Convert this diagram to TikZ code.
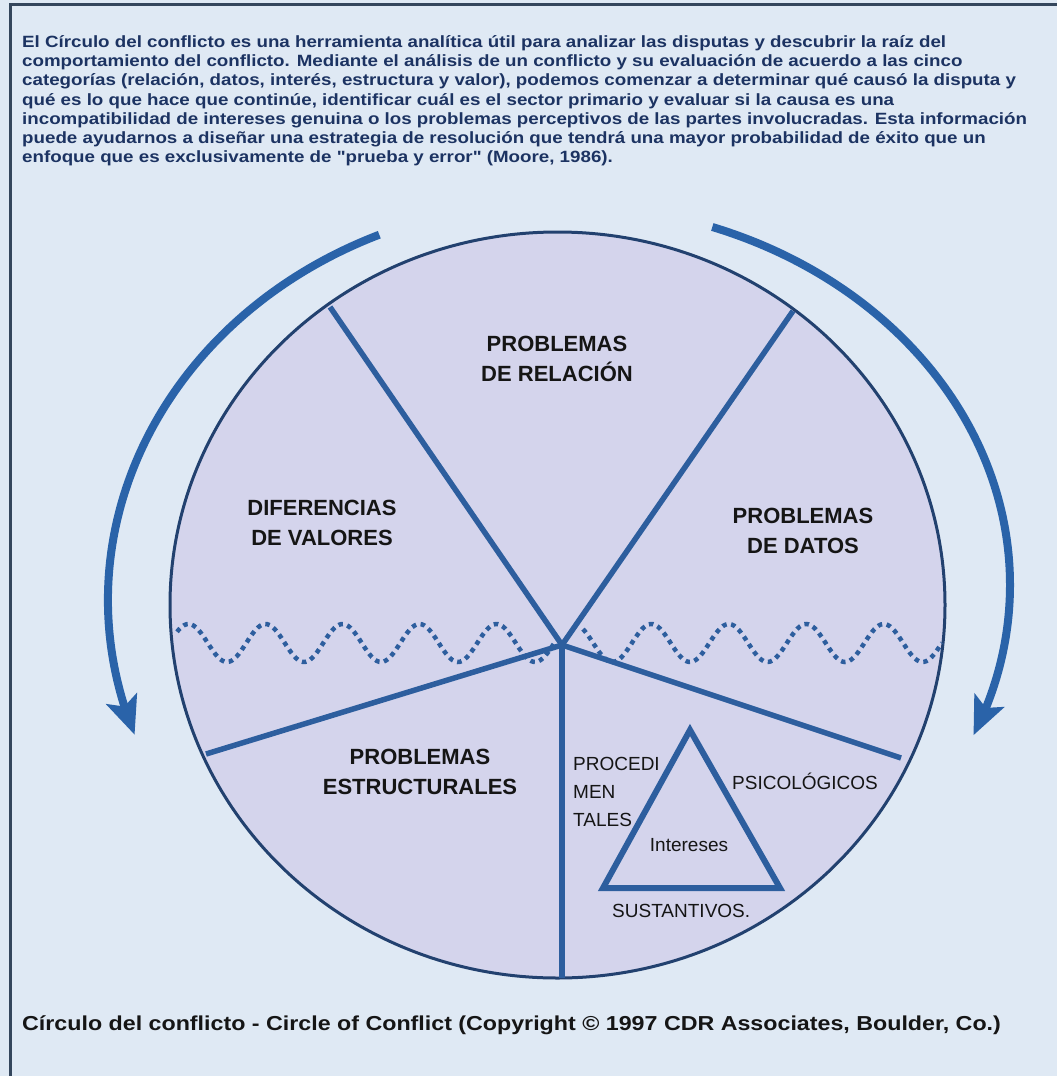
\documentclass[tikz,border=0pt]{standalone}
\usepackage{fontspec}
\setmainfont{Liberation Sans}
\newfontfamily\widesans[FakeStretch=1.15]{Liberation Sans}
\usetikzlibrary{arrows.meta,bending}
\definecolor{bg}{HTML}{DFE9F4}
\definecolor{disc}{HTML}{D4D4EC}
\definecolor{rim}{HTML}{22416F}
\definecolor{spoke}{HTML}{2D5E9E}
\definecolor{arrowblue}{HTML}{2A63A9}
\definecolor{bodytext}{HTML}{1C3362}
\definecolor{ink}{HTML}{151515}
\definecolor{frame}{HTML}{34465C}
\begin{document}
\begin{tikzpicture}[x=1pt,y=-1pt,
  spokeline/.style={draw=spoke,line width=5.5pt},
  wave/.style={draw=spoke,line width=4.5pt,dash pattern=on 4.5pt off 4.5pt},
  turn/.style={draw=arrowblue,line width=8pt,-{Stealth[length=38pt,width=32pt,inset=8pt]}},
  sector/.style={font=\fontsize{22}{30}\selectfont\bfseries,text=ink,align=center,inner sep=0pt},
  facet/.style={font=\fontsize{19}{28}\selectfont,text=ink,inner sep=0pt},
]
% page background and frame
\fill[bg] (0,0) rectangle (1057,1076);
\useasboundingbox (0,0) rectangle (1057,1076);
\draw[frame,line width=3pt] (10,1076) -- (10,4) -- (1057,4);

% introductory paragraph
\node[anchor=north west,inner sep=0pt,align=left,text=bodytext,
      font=\widesans\fontsize{16.3}{19.3}\selectfont\bfseries] (intro) at (22,35)
{El Círculo del conflicto es una herramienta analítica útil para analizar las disputas y descubrir la raíz del\\
comportamiento del conflicto. Mediante el análisis de un conflicto y su evaluación de acuerdo a las cinco\\
categorías (relación, datos, interés, estructura y valor), podemos comenzar a determinar qué causó la disputa y\\
qué es lo que hace que continúe, identificar cuál es el sector primario y evaluar si la causa es una\\
incompatibilidad de intereses genuina o los problemas perceptivos de las partes involucradas. Esta información\\
puede ayudarnos a diseñar una estrategia de resolución que tendrá una mayor probabilidad de éxito que un\\
enfoque que es exclusivamente de \char34 prueba y error\char34\ (Moore, 1986).};

% circular arrows around the disc
\coordinate (lstart) at (379.3,234.7);
\coordinate (rstart) at (712.3,227.0);
\draw[turn] (lstart) arc[start angle=-113.4,end angle=-199.8,x radius=450,y radius=398];
\draw[turn] (rstart) arc[start angle=-70.4,end angle=23.3,x radius=448,y radius=380];

% the disc
\coordinate (c) at (557.5,605);
\draw[rim,line width=3pt,fill=disc] (c) ellipse [x radius=387.5,y radius=373];

% wavy dotted lines
\draw[wave] plot[domain=177:555,samples=160,smooth] (\x,{643+19*cos(4.6753*(\x-227))});
\draw[wave] plot[domain=583:942,samples=160,smooth] (\x,{643+19*cos(4.6452*(\x-690))});

% spokes
\coordinate (hub) at (562,645);
\coordinate (r1) at (330,307);
\coordinate (r2) at (793,311);
\coordinate (r3) at (206,754);
\coordinate (r4) at (901,758);
\coordinate (r5) at (562,978);
\foreach \r in {r1,r2,r3,r4,r5} \draw[spokeline] (hub) -- (\r);

% interests triangle
\coordinate (ta) at (690,730);
\coordinate (tb) at (603,888);
\coordinate (tc) at (780,888);
\draw[spoke,line width=6pt] (ta) -- (tb) -- (tc) -- cycle;

% sector labels
\node[sector] (rel) at (557,359) {PROBLEMAS\\DE RELACIÓN};
\node[sector] (val) at (322,523) {DIFERENCIAS\\DE VALORES};
\node[sector] (dat) at (803,531) {PROBLEMAS\\DE DATOS};
\node[sector] (est) at (420,772) {PROBLEMAS\\ESTRUCTURALES};

% interest facets
\node[facet,anchor=north west,align=left] (proc) at (573,757) {PROCEDI\\MEN\\TALES};
\node[facet,anchor=base west] (psic) at (732,789) {PSICOLÓGICOS};
\node[facet,anchor=base] (int) at (689,851) {Intereses};
\node[facet,anchor=base west] (sust) at (612,917) {SUSTANTIVOS.};

% caption
\node[anchor=base west,inner sep=0pt,text=ink,font=\widesans\fontsize{20.2}{24}\selectfont\bfseries] (cap) at (22,1030)
{Círculo del conflicto - Circle of Conflict (Copyright © 1997 CDR Associates, Boulder, Co.)};
\end{tikzpicture}
\end{document}
